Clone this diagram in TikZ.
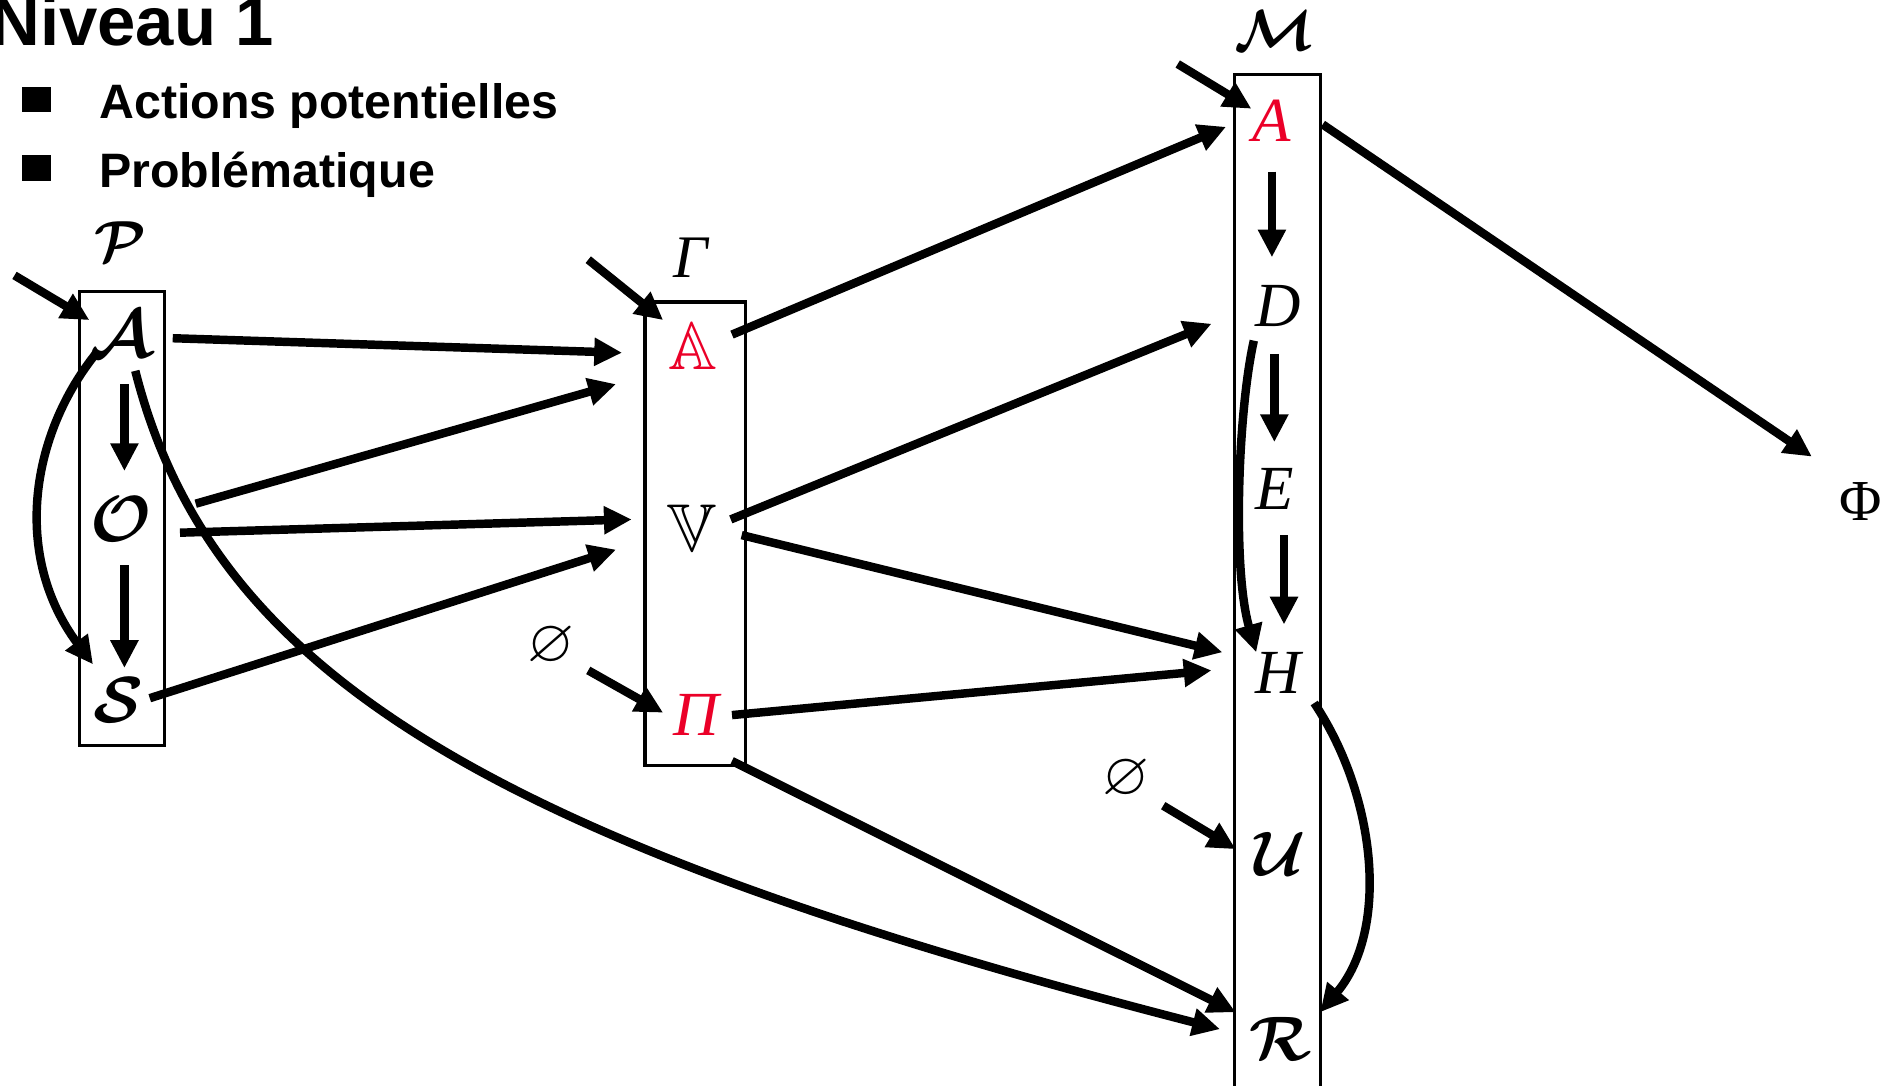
\documentclass[tikz,border=0pt]{standalone}
\usepackage{amsmath}
\usepackage{amssymb}
\usepackage{fontspec}
\usepackage{xcolor}
\usetikzlibrary{arrows.meta,positioning,calc}
\newfontfamily\headfont{Liberation Sans}
\newfontfamily\letterfont{Liberation Serif}
\definecolor{levelred}{RGB}{235,0,40}
% math symbol set at 10pt and blown up
\newcommand{\bigsym}[2]{\scalebox{#1}{$#2$}}

\begin{document}
\begin{tikzpicture}[x=1pt,y=-1pt,
    item/.style={inner sep=0pt},
    letter/.style={inner sep=0pt, font=\letterfont\itshape\fontsize{52}{56}\selectfont},
    colbox/.style={draw, line width=2.6pt},
    link/.style={line width=7pt, -{Triangle[length=23pt,width=22pt]}}]
	\useasboundingbox (0,0) rectangle (1568,899);
	
	% Title and bullet list
	\node[anchor=base west, inner sep=0pt, font=\headfont\bfseries\fontsize{57}{60}\selectfont] (title) at (-8,38) {Niveau 1};
	\fill (18,72) rectangle (42,93);
	\fill (18,128) rectangle (42,150);
	\node[anchor=base west, inner sep=0pt, font=\headfont\bfseries\fontsize{40}{44}\selectfont] (pot) at (82,98) {Actions potentielles};
	\node[anchor=base west, inner sep=0pt, font=\headfont\bfseries\fontsize{40}{44}\selectfont] (prob) at (82,155) {Problématique};
	
	% Column P
	\draw[colbox] (66,241) rectangle (136,617);
	\node[item] (lP) at (100,200) {\bigsym{4.8}{\boldsymbol{\mathcal{P}}}};
	\node[item] (pA) at (100,277) {\bigsym{5.6}{\boldsymbol{\mathcal{A}}}};
	\node[item] (pO) at (100,430) {\bigsym{5.4}{\boldsymbol{\mathcal{O}}}};
	\node[item] (pS) at (98,580) {\bigsym{5.4}{\boldsymbol{\mathcal{S}}}};
	
	% Column Gamma
	\draw[colbox] (534,250) rectangle (617,634);
	\node[letter, font=\letterfont\itshape\fontsize{50}{54}\selectfont] (lG) at (572,213) {Γ};
	\node[item, text=levelred] (gA) at (574,287) {\bigsym{5.6}{\mathbb{A}}};
	\node[item] (gV) at (573,437) {\bigsym{5.6}{\mathbb{V}}};
	\node[letter, text=levelred] (gP) at (576,592) {Π};
	\node[item] (e1) at (456,535) {\bigsym{5}{\varnothing}};
	
	% Column M (open at the bottom)
	\draw[colbox] (1022,910) -- (1022,62) -- (1093,62) -- (1093,910);
	\node[item] (lM) at (1055,25) {\bigsym{4.8}{\boldsymbol{\mathcal{M}}}};
	\node[letter, text=levelred] (mA) at (1053,100) {A};
	\node[letter] (mD) at (1058,253) {D};
	\node[letter] (mE) at (1055,405) {E};
	\node[letter] (mH) at (1058,557) {H};
	\node[item] (mU) at (1060,707) {\bigsym{5.2}{\boldsymbol{\mathcal{U}}}};
	\node[item] (mR) at (1060,860) {\bigsym{5.2}{\boldsymbol{\mathcal{R}}}};
	\node[item] (e2) at (932,645) {\bigsym{5}{\varnothing}};
	\node[letter, font=\letterfont\fontsize{48}{52}\selectfont] (phi) at (1540,415) {Φ};
	
	% Free starts of the entry arrows
	\coordinate (inP) at (12,228);
	\coordinate (inG) at (487,215);
	\coordinate (inM) at (975,53);
	
	% Inside P
	\draw[link] (inP) -- ([shift={(-26,-12)}]pA.center);
	\draw[link] ([shift={(3,41)}]pA.center) -- ([shift={(3,-40)}]pO.center);
	\draw[link] ([shift={(3,38)}]pO.center) -- ([shift={(5,-27)}]pS.center);
	\draw[link] ([shift={(-20,15)}]pA.center) .. controls (25,360) and (10,460) .. ([shift={(-21,-30)}]pS.center);
	
	% P to Gamma
	\draw[link] ([shift={(43,3)}]pA.center) -- ([shift={(-59,5)}]gA.center);
	\draw[link] ([shift={(62,-13)}]pO.center) -- ([shift={(-64,31)}]gA.center);
	\draw[link] ([shift={(49,11)}]pO.center) -- ([shift={(-50,-7)}]gV.center);
	\draw[link] ([shift={(26,-2)}]pS.center) -- ([shift={(-63,18)}]gV.center);
	\draw[link] ([shift={(12,30)}]pA.center) .. controls (175,555) and (400,695) .. ([shift={(-50,-8)}]mR.center);
	
	% Inside Gamma
	\draw[link] (inG) -- ([shift={(-25,-22)}]gA.center);
	\draw[link] ([shift={(31,20)}]e1.center) -- ([shift={(-27,-2)}]gP.center);
	
	% Gamma to M
	\draw[link] ([shift={(32,-10)}]gA.center) -- ([shift={(-38,5)}]mA.center);
	\draw[link] ([shift={(32,-7)}]gV.center) -- ([shift={(-55,15)}]mD.center);
	\draw[link] ([shift={(41,6)}]gV.center) -- ([shift={(-46,-17)}]mH.center);
	\draw[link] ([shift={(30,0)}]gP.center) -- ([shift={(-55,-2)}]mH.center);
	\draw[link] ([shift={(30,38)}]gP.center) -- ([shift={(-37,-22)}]mR.center);
	
	% Inside M
	\draw[link] (inM) -- ([shift={(-17,-10)}]mA.center);
	\draw[link] ([shift={(0,42)}]mA.center) -- ([shift={(-5,-40)}]mD.center);
	\draw[link] ([shift={(-3,40)}]mD.center) -- ([shift={(0,-39)}]mE.center);
	\draw[link] ([shift={(8,38)}]mE.center) -- ([shift={(5,-40)}]mH.center);
	\draw[link] ([shift={(-20,29)}]mD.center) .. controls (1025,340) and (1020,470) .. ([shift={(-18,-17)}]mH.center);
	\draw[link] ([shift={(30,25)}]mH.center) .. controls (1140,660) and (1150,770) .. ([shift={(33,-22)}]mR.center);
	\draw[link] ([shift={(31,22)}]e2.center) -- ([shift={(-37,-4)}]mU.center);
	
	% M to Phi
	\draw[link] ([shift={(42,3)}]mA.center) -- ([shift={(-40,-37)}]phi.center);
\end{tikzpicture}
\end{document}
